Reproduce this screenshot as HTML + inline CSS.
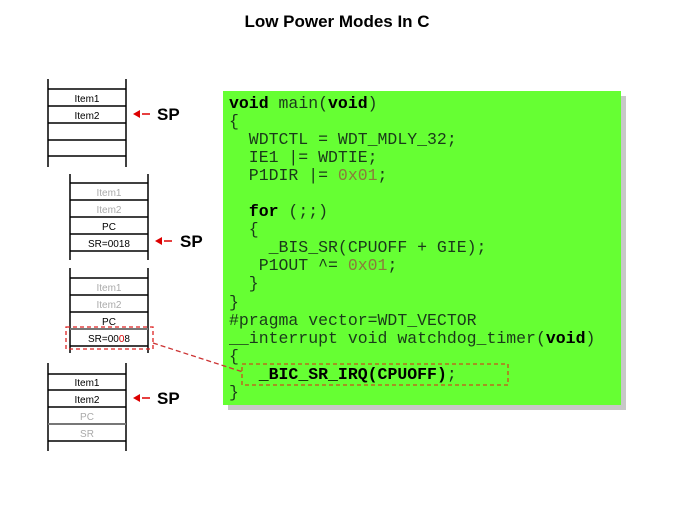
<!DOCTYPE html>
<html><head><style>
body{margin:0;width:674px;height:506px;background:#fff;position:relative;overflow:hidden;font-family:"Liberation Sans",sans-serif}
.t{position:absolute;top:12px;left:0;width:674px;text-align:center;font-weight:bold;font-size:17px}
.sh{position:absolute;left:228px;top:96px;width:398px;height:314px;background:#c8c8c8}
.g{position:absolute;left:223px;top:91px;width:398px;height:314px;background:#66ff33}
pre{position:absolute;left:229px;top:95px;margin:0;font-family:"Liberation Mono",monospace;font-size:16.5px;line-height:18.05px;color:#1a3a1a}
pre b{color:#000}
.n{color:#8a7a3a}
svg{position:absolute;left:0;top:0}
</style></head><body>
<div class="t">Low Power Modes In C</div>
<div class="sh"></div><div class="g"></div>
<pre><b>void</b> main(<b>void</b>)
{
  WDTCTL = WDT_MDLY_32;
  IE1 |= WDTIE;
  P1DIR |= <span class="n">0x01</span>;

  <b>for</b> (;;)
  {
    _BIS_SR(CPUOFF + GIE);
   P1OUT ^= <span class="n">0x01</span>;
  }
}
#pragma vector=WDT_VECTOR
__interrupt void watchdog_timer(<b>void</b>)
{
   <b>_BIC_SR_IRQ(CPUOFF)</b>;
}</pre>
<svg width="674" height="506" font-family="Liberation Sans, sans-serif" font-size="10" text-anchor="middle">
<g stroke="#000" stroke-width="1.5">
<line x1="48" y1="79" x2="48" y2="167"/><line x1="126" y1="79" x2="126" y2="167"/>
<line x1="48" y1="89" x2="126" y2="89"/><line x1="48" y1="106" x2="126" y2="106"/><line x1="48" y1="123" x2="126" y2="123"/><line x1="48" y1="140" x2="126" y2="140"/><line x1="48" y1="156" x2="126" y2="156"/>
<line x1="70" y1="174" x2="70" y2="260"/><line x1="148" y1="174" x2="148" y2="260"/>
<line x1="70" y1="183" x2="148" y2="183"/><line x1="70" y1="200" x2="148" y2="200"/><line x1="70" y1="217" x2="148" y2="217"/><line x1="70" y1="234" x2="148" y2="234"/><line x1="70" y1="251" x2="148" y2="251"/>
<line x1="70" y1="268" x2="70" y2="353"/><line x1="148" y1="268" x2="148" y2="353"/>
<line x1="70" y1="278" x2="148" y2="278"/><line x1="70" y1="295" x2="148" y2="295"/><line x1="70" y1="312" x2="148" y2="312"/><line x1="70" y1="346" x2="148" y2="346"/>
<line x1="48" y1="363" x2="48" y2="451"/><line x1="126" y1="363" x2="126" y2="451"/>
<line x1="48" y1="374" x2="126" y2="374"/><line x1="48" y1="390" x2="126" y2="390"/><line x1="48" y1="407" x2="126" y2="407"/><line x1="48" y1="441" x2="126" y2="441"/>
</g>
<line x1="70" y1="329" x2="148" y2="329" stroke="#777" stroke-width="2"/>
<line x1="48" y1="424" x2="126" y2="424" stroke="#777" stroke-width="2"/>
<text x="87" y="102">Item1</text><text x="87" y="119">Item2</text>
<g fill="#aaa"><text x="109" y="196">Item1</text><text x="109" y="213">Item2</text><text x="109" y="291">Item1</text><text x="109" y="308">Item2</text><text x="87" y="420">PC</text><text x="87" y="437">SR</text></g>
<text x="109" y="230">PC</text><text x="109" y="247">SR=0018</text>
<text x="109" y="325">PC</text><text x="109" y="342">SR=00<tspan fill="#d00">0</tspan>8</text>
<text x="87" y="386">Item1</text><text x="87" y="403">Item2</text>
<g fill="#d00"><polygon points="133,114 140,110 140,118"/><polygon points="155,241 162,237 162,245"/><polygon points="133,398 140,394 140,402"/></g>
<g stroke="#d00" stroke-width="1.5"><line x1="142" y1="114" x2="150" y2="114"/><line x1="164" y1="241" x2="172" y2="241"/><line x1="142" y1="398" x2="150" y2="398"/></g>
<g font-size="17" font-weight="bold" text-anchor="start"><text x="157" y="120">SP</text><text x="180" y="247">SP</text><text x="157" y="404">SP</text></g>
<rect x="66" y="327" width="87" height="22" fill="none" stroke="#d22" stroke-width="1.3" stroke-dasharray="4,3"/>
<line x1="153" y1="343" x2="243" y2="372" stroke="#c33" stroke-width="1.3" stroke-dasharray="5,3"/>
<rect x="242" y="364" width="266" height="21" fill="none" stroke="#c8501a" stroke-width="1.3" stroke-dasharray="4,3"/>
</svg>
</body></html>
